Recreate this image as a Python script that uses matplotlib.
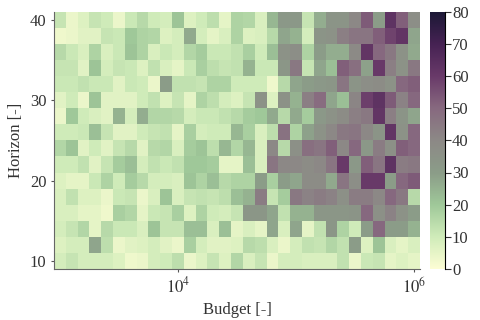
import numpy as np
import matplotlib
matplotlib.use("Agg")
import matplotlib.pyplot as plt
from matplotlib.colors import LinearSegmentedColormap

plt.rcParams["font.family"] = ["Liberation Serif", "DejaVu Serif"]
plt.rcParams["mathtext.fontset"] = "stix"

# log10 of the budget per column, horizon per row
budget_exp = np.round(np.arange(3.0, 6.05, 0.1), 1)
horizons = [10, 12, 14, 16, 18, 20, 22, 24, 26, 28, 30, 32, 34, 36, 38, 40]

# values read row by row, top row (horizon 40) first
rows_top_down = [
    [12, 4, 7, 12, 10, 4, 11, 15, 10, 9, 21, 7, 10, 14, 5, 17, 16, 8, 24, 32, 32, 12, 26, 34, 34, 40, 53, 30, 63, 52, 37],
    [3, 4, 6, 6, 12, 11, 20, 17, 16, 7, 9, 27, 9, 5, 8, 17, 7, 8, 15, 28, 25, 9, 34, 35, 43, 46, 46, 52, 58, 62, 28],
    [15, 11, 8, 17, 8, 11, 21, 17, 8, 11, 9, 16, 19, 11, 11, 13, 18, 10, 22, 35, 37, 17, 30, 26, 26, 39, 62, 50, 45, 35, 27],
    [12, 12, 6, 21, 9, 12, 11, 7, 13, 8, 5, 11, 18, 14, 12, 13, 25, 11, 11, 33, 45, 12, 28, 22, 52, 48, 29, 60, 43, 35, 45],
    [11, 11, 13, 11, 11, 6, 11, 10, 4, 30, 13, 13, 12, 17, 17, 10, 10, 10, 3, 15, 28, 30, 32, 33, 46, 34, 37, 38, 35, 50, 52],
    [6, 10, 4, 21, 6, 6, 6, 10, 13, 7, 12, 5, 17, 14, 9, 7, 12, 35, 7, 35, 25, 43, 49, 28, 22, 41, 59, 63, 53, 42, 50],
    [4, 20, 10, 8, 6, 25, 9, 26, 16, 16, 15, 9, 11, 11, 13, 15, 19, 20, 27, 15, 27, 19, 32, 35, 38, 43, 45, 62, 43, 34, 28],
    [10, 10, 11, 22, 12, 6, 6, 10, 12, 13, 5, 18, 9, 10, 10, 24, 18, 8, 14, 47, 17, 29, 35, 40, 45, 46, 40, 34, 62, 35, 50],
    [16, 21, 6, 10, 6, 12, 15, 6, 15, 16, 8, 19, 21, 14, 24, 16, 24, 8, 40, 15, 36, 48, 46, 52, 40, 50, 32, 44, 36, 52, 50],
    [10, 10, 13, 6, 12, 19, 22, 9, 13, 11, 13, 20, 20, 19, 5, 5, 22, 8, 46, 40, 40, 38, 40, 46, 60, 32, 52, 46, 63, 44, 45],
    [7, 5, 5, 11, 17, 10, 19, 15, 9, 9, 8, 21, 17, 22, 15, 17, 17, 30, 18, 30, 28, 38, 38, 27, 46, 37, 60, 60, 30, 50, 53],
    [8, 13, 7, 7, 4, 11, 12, 4, 8, 21, 8, 12, 13, 12, 14, 22, 25, 44, 12, 19, 45, 42, 44, 42, 36, 44, 44, 40, 50, 45, 15],
    [8, 8, 5, 5, 3, 18, 16, 5, 11, 12, 18, 7, 17, 10, 9, 12, 33, 33, 28, 13, 25, 25, 33, 33, 33, 34, 50, 36, 42, 35, 30],
    [9, 12, 16, 5, 15, 11, 11, 8, 21, 12, 12, 22, 22, 8, 22, 5, 8, 5, 28, 8, 28, 5, 13, 33, 17, 10, 30, 50, 30, 30, 25],
    [7, 9, 9, 28, 14, 4, 6, 7, 9, 6, 4, 18, 9, 6, 6, 7, 15, 14, 8, 4, 9, 13, 12, 16, 13, 30, 7, 21, 8, 5, 8],
    [9, 12, 9, 9, 9, 7, 3, 4, 9, 10, 14, 4, 7, 12, 7, 16, 8, 12, 4, 9, 9, 8, 8, 8, 13, 4, 11, 12, 5, 7, 5],
]
values = np.array(rows_top_down[::-1], dtype=float)

cmap = LinearSegmentedColormap.from_list("bud", [
    "#fcfdd4", "#cfebb9", "#9fc899", "#8b9c88", "#8c8886",
    "#87697f", "#693a69", "#462253", "#1c1836"])

# cell edges in log space / horizon space
xe = 10 ** np.append(budget_exp - 0.05, budget_exp[-1] + 0.05)
h = np.array(horizons)
ye = np.append(h - 1, h[-1] + 1)

fig = plt.figure(figsize=(4.8, 3.2), dpi=100)
ax = fig.add_axes([0.1125, 0.16, 0.7625, 0.8025])
cax = fig.add_axes([0.896, 0.16, 0.031, 0.8025])

mesh = ax.pcolormesh(xe, ye, values, cmap=cmap, vmin=0, vmax=80)
ax.set_xscale("log")
ax.set_xlim(xe[0], xe[-1])
ax.set_ylim(ye[0], ye[-1])
ax.set_xticks([1e4, 1e6])
ax.set_xticklabels([r"$10^4$", r"$10^6$"])
ax.minorticks_off()
ax.set_yticks([10, 20, 30, 40])
ax.tick_params(labelsize=12, length=2, color="#555555", labelcolor="#333333")
ax.set_xlabel("Budget [-]", fontsize=12, color="#333333")
ax.set_ylabel("Horizon [-]", fontsize=12, color="#333333")
for side in ["top", "right"]:
    ax.spines[side].set_visible(False)
for side in ["left", "bottom"]:
    ax.spines[side].set_color("#666666")
    ax.spines[side].set_linewidth(0.8)

cb = fig.colorbar(mesh, cax=cax)
cb.set_ticks(range(0, 81, 10))
cb.outline.set_visible(False)
cax.tick_params(labelsize=12, length=4, color="#333333", labelcolor="#333333", pad=1)
cax.spines["right"].set_visible(True)

fig.savefig("out.png", dpi=100)
